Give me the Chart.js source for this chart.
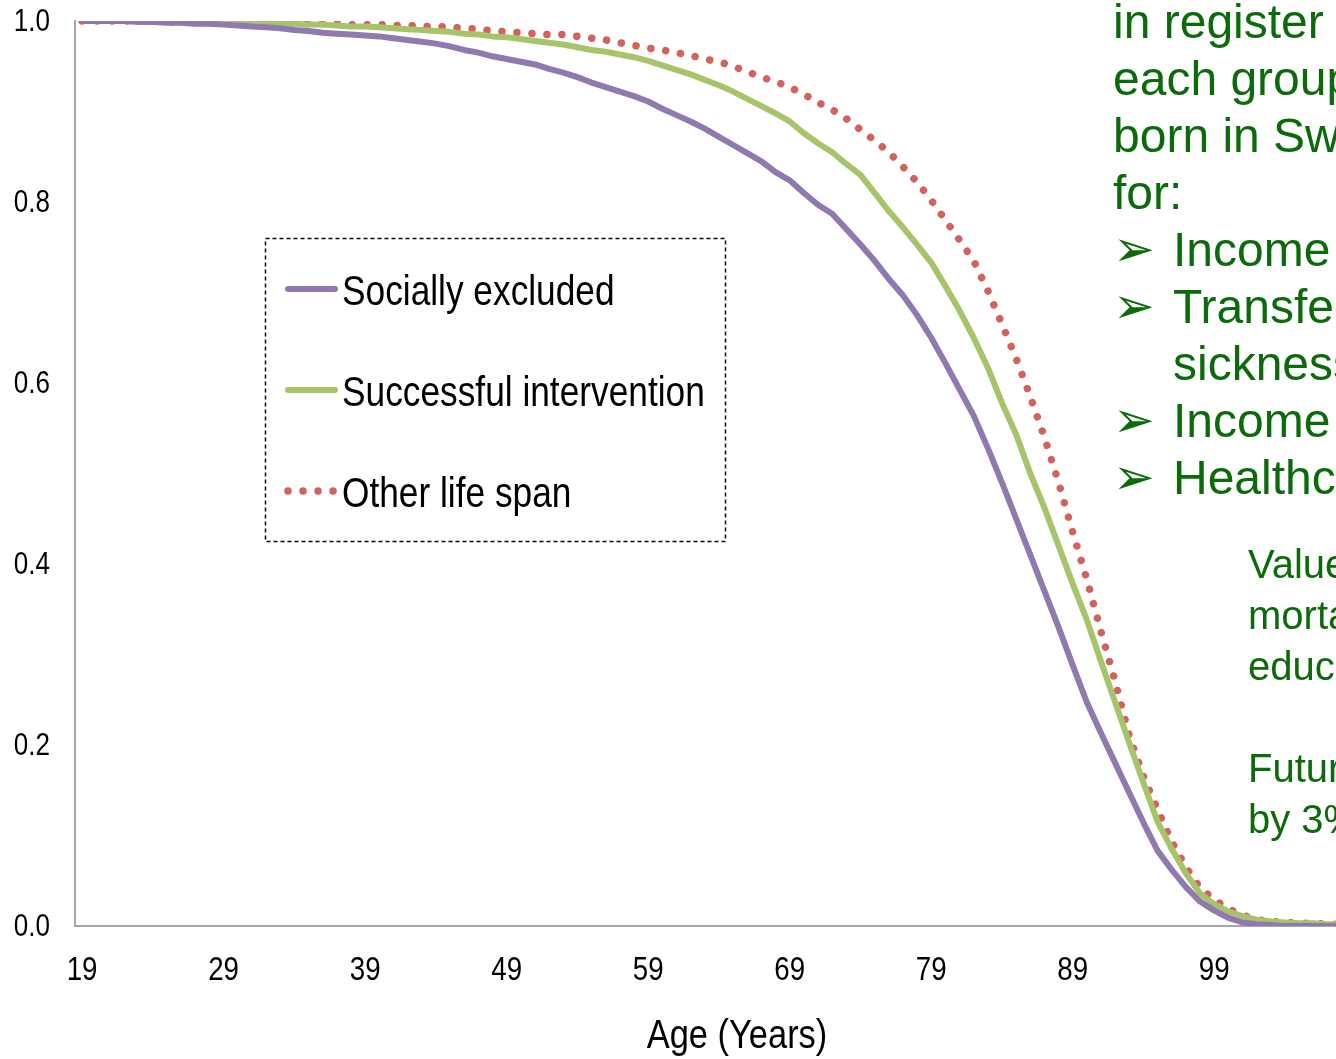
<!DOCTYPE html>
<html>
<head>
<meta charset="utf-8">
<script src="https://cdn.jsdelivr.net/npm/chart.js@4.4.1/dist/chart.umd.min.js"></script>
<style>
  html, body { margin: 0; padding: 0; background: #fff; overflow: hidden; }
  #wrap { position: relative; width: 1336px; height: 1059px; overflow: hidden; }
  #surv { position: absolute; left: 0; top: 0; }
  .txt { position: absolute; white-space: nowrap; color: #0b6b0b;
         font-family: "Liberation Sans", Arial, sans-serif; }
  .big { font-size: 48px; line-height: 57px; left: 1113px; top: -7px; }
  .big .ind { padding-left: 60px; }
  .big .b { display: inline-block; width: 60px; font-family: "DejaVu Sans", sans-serif;
            font-size: 50px; line-height: 40px; vertical-align: 0px; font-weight: bold; }
  .small { font-size: 40px; line-height: 51px; left: 1248px; top: 539px; }
</style>
</head>
<body>
<div id="wrap">
  <canvas id="surv" width="1336" height="1059"></canvas>
  <div class="txt big">
    <div>in register data</div>
    <div>each group</div>
    <div>born in Sweden</div>
    <div>for:</div>
    <div><span class="b">&#10146;</span>Income</div>
    <div><span class="b">&#10146;</span>Transfers</div>
    <div class="ind">sickness</div>
    <div><span class="b">&#10146;</span>Income</div>
    <div><span class="b">&#10146;</span>Healthcare</div>
  </div>
  <div class="txt small">
    <div>Values</div>
    <div>mortality</div>
    <div>education</div>
    <div>&nbsp;</div>
    <div>Future</div>
    <div>by 3%</div>
  </div>
</div>
<script>
// ages 19..108
var ages = [];
for (var a = 19; a <= 108; a++) ages.push(a);

var sociallyExcluded = [
  1.000, 1.000, 1.000, 1.000, 0.999, 0.999, 0.998, 0.998, 0.997, 0.997, // 19-28
  0.996, 0.995, 0.994, 0.993, 0.992, 0.990, 0.989, 0.987, 0.986, 0.985, // 29-38
  0.984, 0.983, 0.981, 0.979, 0.977, 0.975, 0.972, 0.968, 0.965, 0.961, // 39-48
  0.958, 0.955, 0.952, 0.947, 0.943, 0.938, 0.932, 0.927, 0.922, 0.917, // 49-58
  0.911, 0.903, 0.896, 0.889, 0.881, 0.872, 0.863, 0.854, 0.845, 0.833, // 59-68
  0.824, 0.810, 0.797, 0.787, 0.770, 0.753, 0.735, 0.715, 0.697, 0.675, // 69-78
  0.650, 0.622, 0.593, 0.564, 0.528, 0.490, 0.450, 0.410, 0.370, 0.330, // 79-88
  0.288, 0.247, 0.213, 0.180, 0.147, 0.114, 0.083, 0.062, 0.043, 0.027, // 89-98
  0.017, 0.009, 0.004, 0.002, 0.001, 0.000, 0.000, 0.000, 0.000, 0.000  // 99-108
];

var successfulIntervention = [
  1.000, 1.000, 1.000, 1.000, 1.000, 1.000, 0.999, 0.999, 0.999, 0.999,
  0.998, 0.998, 0.998, 0.997, 0.997, 0.997, 0.996, 0.996, 0.995, 0.994,
  0.994, 0.993, 0.992, 0.991, 0.990, 0.989, 0.988, 0.986, 0.985, 0.983,
  0.982, 0.980, 0.978, 0.976, 0.974, 0.971, 0.968, 0.966, 0.963, 0.960,
  0.956, 0.951, 0.946, 0.941, 0.935, 0.929, 0.922, 0.914, 0.906, 0.898,
  0.889, 0.876, 0.865, 0.855, 0.842, 0.830, 0.810, 0.790, 0.772, 0.753,
  0.733, 0.707, 0.680, 0.650, 0.617, 0.578, 0.543, 0.500, 0.462, 0.420,
  0.378, 0.338, 0.292, 0.247, 0.202, 0.158, 0.115, 0.085, 0.058, 0.036,
  0.024, 0.016, 0.011, 0.007, 0.005, 0.004, 0.003, 0.003, 0.002, 0.002
];

var otherLifeSpan = [
  1.000, 1.000, 1.000, 1.000, 1.000, 1.000, 0.999, 0.999, 0.999, 0.999,
  0.999, 0.999, 0.998, 0.998, 0.998, 0.998, 0.997, 0.997, 0.997, 0.996,
  0.996, 0.996, 0.995, 0.995, 0.994, 0.994, 0.993, 0.992, 0.991, 0.989,
  0.988, 0.987, 0.986, 0.985, 0.985, 0.983, 0.981, 0.979, 0.976, 0.973,
  0.970, 0.968, 0.965, 0.962, 0.958, 0.955, 0.950, 0.944, 0.938, 0.933,
  0.927, 0.919, 0.910, 0.902, 0.892, 0.880, 0.868, 0.855, 0.839, 0.822,
  0.802, 0.780, 0.758, 0.735, 0.702, 0.665, 0.627, 0.585, 0.540, 0.490,
  0.435, 0.383, 0.325, 0.270, 0.210, 0.165, 0.128, 0.093, 0.065, 0.042,
  0.029, 0.019, 0.012, 0.007, 0.005, 0.004, 0.003, 0.003, 0.002, 0.002
];

var xTickLabels = [19, 29, 39, 49, 59, 69, 79, 89, 99];
var yTickLabels = [0.0, 0.2, 0.4, 0.6, 0.8, 1.0];
var xTitle = "Age (Years)";

var seriesNames = ["Socially excluded", "Successful intervention", "Other life span"];
var seriesColors = ["#9079b1", "#a8c46a", "#d3625c"];

var sans = "'Liberation Sans', Arial, sans-serif";
var squeeze = 0.84; // Arial Narrow look

function points(vals) {
  return vals.map(function (v, i) { return { x: ages[i], y: v }; });
}

// draws condensed text (no narrow font installed)
function narrowText(ctx, text, x, y, size, align) {
  ctx.save();
  ctx.font = size + "px " + sans;
  ctx.textAlign = align || "left";
  ctx.textBaseline = "middle";
  ctx.fillStyle = "#000";
  ctx.translate(x, y);
  ctx.scale(squeeze, 1);
  ctx.fillText(text, 0, 0);
  ctx.restore();
}

// ------------------------------------------ axis labels -------------------
var narrowAxes = {
  id: "narrowAxes",
  afterDraw: function (chart) {
    var ctx = chart.ctx;
    var xs = chart.scales.x, ys = chart.scales.y;
    yTickLabels.forEach(function (v) {
      narrowText(ctx, v.toFixed(1), 50, ys.getPixelForValue(v) + 1, 31, "right");
    });
    xTickLabels.forEach(function (v) {
      narrowText(ctx, String(v), xs.getPixelForValue(v), 971, 33, "center");
    });
    narrowText(ctx, xTitle, 737, 1037, 41, "center");
  },
};

// ------------------------------------------ boxed legend -------------------
var boxLegend = {
  id: "boxLegend",
  afterDraw: function (chart) {
    var ctx = chart.ctx;
    ctx.save();
    ctx.strokeStyle = "#000";
    ctx.lineWidth = 1.5;
    ctx.setLineDash([4, 3]);
    ctx.strokeRect(265.5, 238.5, 460, 303);
    ctx.setLineDash([]);
    var rows = [289, 390, 491];
    chart.data.datasets.forEach(function (ds, i) {
      var y = rows[i];
      ctx.strokeStyle = ds.borderColor;
      ctx.lineWidth = ds.borderWidth;
      ctx.lineCap = "round";
      ctx.setLineDash(ds.borderDash || []);
      ctx.beginPath();
      ctx.moveTo(288, y);
      ctx.lineTo(335, y);
      ctx.stroke();
      ctx.setLineDash([]);
      narrowText(ctx, ds.label, 342, y + 4, 42, "left");
    });
    ctx.restore();
  },
};

var cfg = {
  type: "line",
  data: {
    datasets: [
      {
        label: seriesNames[0],
        data: points(sociallyExcluded),
        borderColor: seriesColors[0],
        borderWidth: 6,
      },
      {
        label: seriesNames[1],
        data: points(successfulIntervention),
        borderColor: seriesColors[1],
        borderWidth: 6,
      },
      {
        label: seriesNames[2],
        data: points(otherLifeSpan),
        borderColor: seriesColors[2],
        borderWidth: 7.5,
        borderDash: [0.01, 15],
        borderCapStyle: "round",
      },
    ],
  },
  options: {
    responsive: false,
    animation: false,
    events: [],
    layout: { padding: { top: 21, right: 0, left: 0, bottom: 0 } },
    elements: { point: { radius: 0 }, line: { tension: 0, borderJoinStyle: "round" } },
    plugins: { legend: { display: false }, tooltip: { enabled: false } },
    scales: {
      x: {
        type: "linear",
        min: 18.5,
        max: 107.6,
        afterBuildTicks: function (s) {
          s.ticks = xTickLabels.map(function (v) { return { value: v }; });
        },
        afterFit: function (s) { s.height = 133; },
        grid: { display: false, drawTicks: false },
        border: { display: true, color: "#a6a6a6", width: 2 },
        ticks: { display: false },
      },
      y: {
        min: 0,
        max: 1,
        afterBuildTicks: function (s) {
          s.ticks = yTickLabels.map(function (v) { return { value: v }; });
        },
        afterFit: function (s) { s.width = 75; },
        grid: { display: false, drawTicks: false },
        border: { display: true, color: "#a6a6a6", width: 2 },
        ticks: { display: false },
      },
    },
  },
  plugins: [boxLegend, narrowAxes],
};

var survChart = new Chart(document.getElementById("surv"), cfg);
</script>
</body>
</html>
